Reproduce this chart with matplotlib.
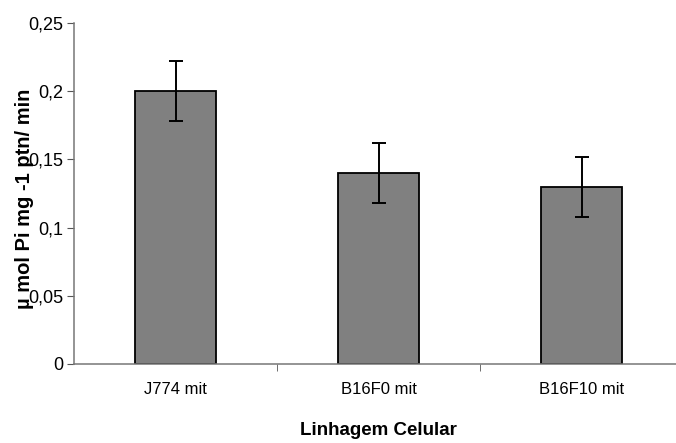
import numpy as np
import matplotlib.pyplot as plt

plt.rcParams['font.family'] = ['Liberation Sans', 'DejaVu Sans']

# data
linhagens = ["J774 mit", "B16F0 mit", "B16F10 mit"]
atividade = [0.20, 0.14, 0.13]
erro = [0.022, 0.022, 0.022]
yticks = [0, 0.05, 0.1, 0.15, 0.2, 0.25]
ytick_labels = ["0", "0,05", "0,1", "0,15", "0,2", "0,25"]

fig = plt.figure(figsize=(6.76, 4.43), dpi=100)
# plot area runs a little past the right edge, like the original
ax = fig.add_axes([74 / 676, 1 - 364 / 443, 609 / 676, 341 / 443])

x = np.arange(len(linhagens))
ax.bar(x, atividade, width=0.40, color="#808080", edgecolor="black", linewidth=1.3,
       yerr=erro, error_kw=dict(ecolor="black", elinewidth=1.4, capsize=4.7, capthick=1.4))

ax.set_ylim(0, 0.25)
ax.set_xlim(-0.5, 2.5)
ax.set_yticks(yticks)
ax.set_yticklabels(ytick_labels, fontsize=13)
ax.set_xticks(x)
ax.set_xticklabels(linhagens, fontsize=12)
ax.tick_params(axis="x", which="major", length=0, pad=13)
ax.set_xticks([0.5, 1.5], minor=True)
ax.tick_params(axis="x", which="minor", length=5, color="#555555", direction="out")
ax.tick_params(axis="y", length=5, color="#555555", direction="out", pad=3)

for s in ["top", "right"]:
    ax.spines[s].set_visible(False)
for s in ["left", "bottom"]:
    ax.spines[s].set_color("#777777")
    ax.spines[s].set_linewidth(1.1)

ax.set_xlabel("Linhagem Celular", fontsize=13.5, fontweight="bold")
ax.xaxis.set_label_coords(0.5, -58 / 341)
ax.set_ylabel("µ mol Pi mg -1 ptn/ min", fontsize=14.5, fontweight="bold")
ax.yaxis.set_label_coords(-40 / 609, 0.484)

fig.savefig("out.png", dpi=100)
